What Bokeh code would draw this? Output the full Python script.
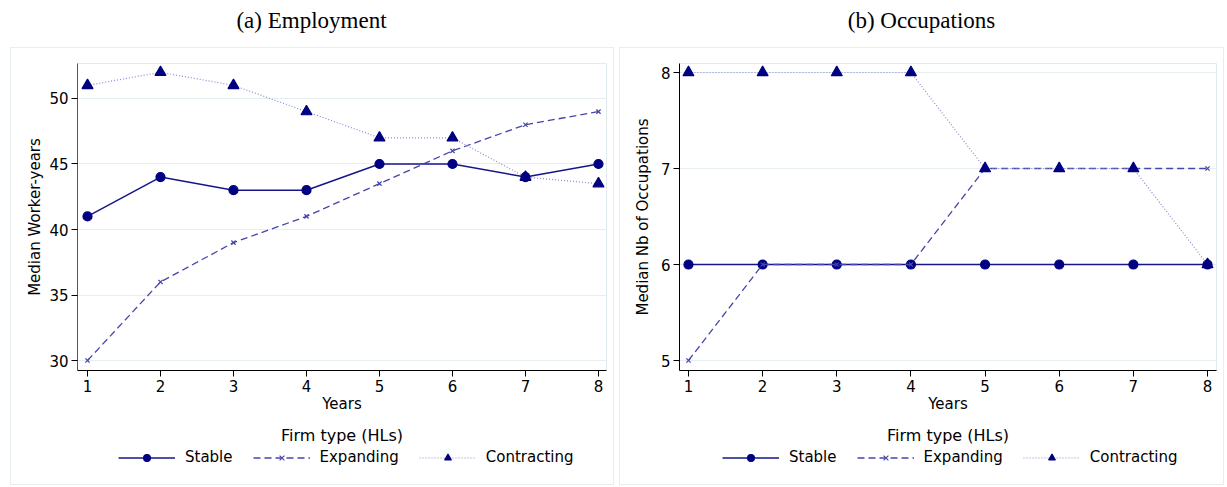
from bokeh.plotting import figure
from bokeh.models import Range1d, FixedTicker, Legend, LegendItem, Spacer
from bokeh.layouts import row, column
from bokeh.embed import file_html
from bokeh.resources import INLINE
from bokeh.core.properties import value

# ---------------- data ----------------
years = [1, 2, 3, 4, 5, 6, 7, 8]
series_names = ["Stable", "Expanding", "Contracting"]

emp_stable = [41, 44, 43, 43, 45, 45, 44, 45]
emp_expanding = [30, 36, 39, 41, 43.5, 46, 48, 49]
emp_contracting = [51, 52, 51, 49, 47, 47, 44, 43.5]
emp_yticks = [30, 35, 40, 45, 50]

occ_stable = [6, 6, 6, 6, 6, 6, 6, 6]
occ_expanding = [5, 6, 6, 6, 7, 7, 7, 7]
occ_contracting = [8, 8, 8, 8, 7, 7, 7, 6]
occ_yticks = [5, 6, 7, 8]

titles = ["(a) Employment", "(b) Occupations"]
ylabels = ["Median Worker-years", "Median Nb of Occupations"]
xlabel = "Years"
legend_title = "Firm type (HLs)"

# ---------------- styles ----------------
SANS = "DejaVu Sans"
SERIF = "Liberation Serif"
NAVY = "#000080"
STYLES = [
    dict(line_color="#16168a", line_width=1.5, line_dash="solid", marker="circle", size=9,
         m_fill=NAVY, m_line=NAVY),
    dict(line_color="#4646aa", line_width=1.3, line_dash="7 4", marker="x", size=6,
         m_fill=None, m_line="#4646aa"),
    dict(line_color="#8a8ad2", line_width=1.2, line_dash="1 2", marker="triangle", size=11,
         m_fill=NAVY, m_line=NAVY),
]
HEAD_H = 47
FRAME_H = 307
MAIN_BOTTOM = 50
LEG_H = 64


def bare(frame_w, frame_h, mbl, mbr):
    f = figure(frame_width=frame_w, frame_height=frame_h, x_range=Range1d(0, frame_w),
               y_range=Range1d(0, frame_h), toolbar_location=None, output_backend="svg",
               x_axis_location=None, y_axis_location=None, min_border_left=mbl,
               min_border_right=mbr, min_border_top=0, min_border_bottom=0)
    f.grid.visible = False
    f.outline_line_color = None
    f.background_fill_color = "white"
    f.border_fill_color = "white"
    return f


def header(text, frame_w, mbl, mbr, offset):
    h = bare(frame_w, HEAD_H, mbl, mbr)
    h.text(x=[offset], y=[HEAD_H - 20], text=[text], text_align="center",
           text_baseline="middle", text_font=value(SERIF), text_font_size="23px",
           text_color="black")
    return h


def add_series(fig, series, **kw):
    out = []
    for name, ys, st in zip(series_names, series, STYLES):
        lr = fig.line(years, ys, line_color=st["line_color"], line_width=st["line_width"],
                      line_dash=st["line_dash"], **kw)
        sr = fig.scatter(years, ys, marker=st["marker"], size=st["size"],
                         fill_color=st["m_fill"], line_color=st["m_line"], line_width=1.2, **kw)
        out.append((name, lr, sr))
    return out


def legend_fig(series, frame_w, mbl, mbr, leg_x):
    f = bare(frame_w, LEG_H, mbl, mbr)
    # series drawn on an off-screen range: only their legend glyphs are shown
    f.extra_y_ranges = {"hidden": Range1d(1000, 1001)}
    rs = add_series(f, series, y_range_name="hidden")
    f.text(x=[frame_w / 2], y=[LEG_H - 15], text=[legend_title], text_align="center",
           text_baseline="middle", text_font=value(SANS), text_font_size="16px",
           text_color="black")
    items = [LegendItem(label=n, renderers=[lr, sr]) for n, lr, sr in rs]
    leg = Legend(items=items, orientation="horizontal", location=(leg_x, 18),
                 border_line_color=None, background_fill_color=None, background_fill_alpha=0,
                 glyph_width=57, glyph_height=17, label_height=17, label_standoff=10,
                 spacing=20, padding=0, margin=0, label_text_font=SANS,
                 label_text_font_size="15px", label_text_color="black")
    f.add_layout(leg, "center")
    return f


def panel(ylabel, series, yticks, frame_w, xr, yr, mbl, mbr, ylab_standoff, yaxis_color):
    p = figure(frame_width=frame_w, frame_height=FRAME_H, x_range=Range1d(*xr),
               y_range=Range1d(*yr), toolbar_location=None, output_backend="svg",
               min_border_left=mbl, min_border_right=mbr, min_border_top=15,
               min_border_bottom=MAIN_BOTTOM)
    p.background_fill_color = "white"
    p.border_fill_color = "white"
    p.outline_line_color = "#e1eaee"
    p.xgrid.visible = False
    p.ygrid.grid_line_color = "#e6eef2"
    p.ygrid.grid_line_width = 1

    xa = p.xaxis[0]
    ya = p.yaxis[0]
    xa.ticker = FixedTicker(ticks=years)
    ya.ticker = FixedTicker(ticks=yticks)
    for ax in (xa, ya):
        ax.major_label_text_font = SANS
        ax.major_label_text_font_size = "15px"
        ax.major_label_text_color = "black"
        ax.axis_label_text_font = SANS
        ax.axis_label_text_font_style = "normal"
        ax.axis_label_text_font_size = "15px"
        ax.axis_label_text_color = "black"
        ax.minor_tick_line_color = None
        ax.major_tick_in = 0
        ax.major_tick_out = 6
        ax.major_label_standoff = 3
    xa.axis_label = xlabel
    xa.axis_label_standoff = 0
    xa.axis_line_color = "black"
    xa.major_tick_line_color = "black"
    ya.axis_label = ylabel
    ya.axis_label_standoff = ylab_standoff
    ya.axis_line_color = yaxis_color
    ya.major_tick_line_color = "black"

    add_series(p, series)
    return p


emp_series = [emp_stable, emp_expanding, emp_contracting]
occ_series = [occ_stable, occ_expanding, occ_contracting]

pa = panel(ylabels[0], emp_series, emp_yticks, 529, (0.863, 8.110), (29.24, 52.67),
           66, 7, 2, "#555555")
pb = panel(ylabels[1], occ_series, occ_yticks, 537, (0.879, 8.121), (4.896, 8.094),
           59, 7, 6, "black")

la = legend_fig(emp_series, 529, 66, 7, 41)
lb = legend_fig(occ_series, 537, 59, 7, 43)

ha = header(titles[0], 529, 66, 7, 312 - 77)
hb = header(titles[1], 537, 59, 7, 924 - 681)

BOX = {"border": "1px solid #e6eef1"}
box_a = column(pa, la, styles=BOX)
box_b = column(pb, lb, styles=BOX)

layout = row(Spacer(width=10), column(ha, box_a), Spacer(width=5), column(hb, box_b))

open("out.html", "w").write(file_html(layout, INLINE))
